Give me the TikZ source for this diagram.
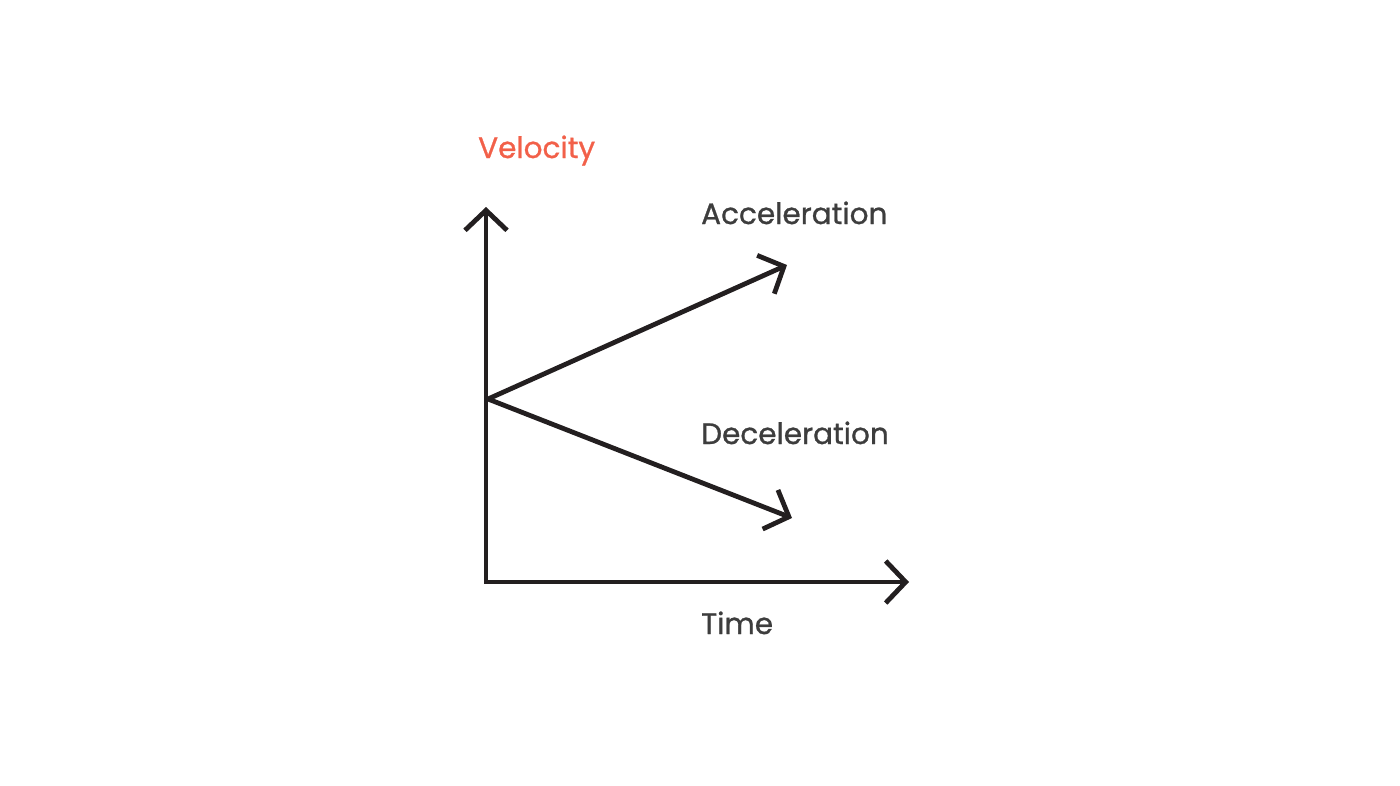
\documentclass[tikz,border=0pt]{standalone}
\usepackage{fontspec}
\setmainfont{Poppins}[FakeBold=0.9]
\usetikzlibrary{arrows.meta}
\definecolor{ink}{HTML}{231F20}
\definecolor{lab}{HTML}{3D3D3D}
\definecolor{vel}{HTML}{F26049}
\tikzset{barb/.tip={Straight Barb[length=20pt,width=42pt,line width=4.8pt]}}
\begin{document}
\begin{tikzpicture}[x=1pt,y=-1pt,
  axis/.style={draw=ink,line width=4.8pt,line join=miter,line cap=butt},
  lbl/.style={anchor=base west,inner sep=0pt,text=lab,font=\fontsize{29.5}{34}\selectfont}]
\useasboundingbox (0,0) rectangle (1400,785);
\coordinate (O) at (486,582);
\coordinate (Y) at (486,207);
\coordinate (X) at (909,582);
\coordinate (S) at (488,399);
\coordinate (A) at (787,265);
\coordinate (D) at (792,518);
\draw[axis,barb-barb] (X) -- (O) -- (Y);
\draw[axis,-barb] (S) -- (A);
\draw[axis,-barb] (S) -- (D);
\node[lbl,text=vel] (vl) at (478,158) {Velocity};
\node[lbl] (al) at (701,224) {Acceleration};
\node[lbl] (dl) at (701,444) {Deceleration};
\node[lbl] (tl) at (701,634) {Time};
\end{tikzpicture}
\end{document}
